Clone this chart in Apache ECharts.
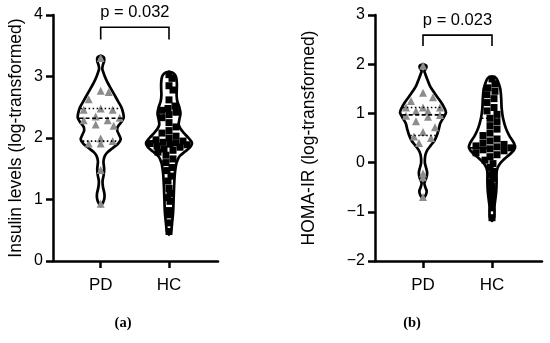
<!DOCTYPE html>
<html><head><meta charset="utf-8">
<script src="https://cdn.jsdelivr.net/npm/echarts@6/dist/echarts.min.js"></script>
<style>html,body{margin:0;padding:0;background:#fff}#c{width:550px;height:343px}</style>
</head><body><div id="c"></div>
<script>
// ---------- data ----------
const categories = ['PD', 'HC'];
const insulinPD = [3.30, 2.77, 2.75, 2.63, 2.48, 2.46, 2.46, 2.35, 2.33, 2.29, 2.29, 2.22, 2.20, 1.99, 1.95, 1.91, 1.91, 1.48, 0.93];
const insulinHC = [3.03, 2.97, 2.85, 2.78, 2.62, 2.52, 2.48, 2.45, 2.42, 2.38, 2.33, 2.25, 2.18, 2.12, 2.08, 2.03, 2.0, 1.97, 1.95, 1.93, 1.92, 1.91, 1.9, 1.89, 1.87, 1.85, 1.82, 1.8, 1.77, 1.72, 1.66, 1.6, 1.52, 1.47, 1.38, 1.3, 1.18, 1.1, 1.03, 0.97, 0.82, 0.75, 0.62, 0.48];
const homaPD = [1.97, 1.42, 1.33, 1.25, 1.12, 1.12, 1.12, 1.05, 1.05, 0.97, 0.95, 0.93, 0.84, 0.72, 0.62, 0.53, 0.5, 0.4, -0.22, -0.3, -0.7];
const homaHC = [1.7, 1.6, 1.52, 1.45, 1.38, 1.3, 1.22, 1.12, 1.05, 0.98, 0.9, 0.83, 0.75, 0.68, 0.6, 0.55, 0.48, 0.44, 0.4, 0.37, 0.34, 0.32, 0.3, 0.28, 0.26, 0.24, 0.2, 0.16, 0.12, 0.05, -0.02, -0.1, -0.18, -0.25, -0.32, -0.4, -0.48, -0.55, -0.62, -0.7, -0.8, -0.92, -1.12];

// violin density profiles: [value, relative density]
const insulinPDViolin = [[3.34,0],[3.31,0.14],[3.25,0.15],[3.18,0.09],[3.12,0.07],[3.0,0.18],[2.9,0.3],[2.8,0.45],[2.7,0.6],[2.6,0.75],[2.5,0.9],[2.4,0.98],[2.33,1.0],[2.26,0.9],[2.18,0.74],[2.12,0.72],[2.05,0.8],[1.98,0.87],[1.9,0.74],[1.83,0.5],[1.77,0.3],[1.71,0.18],[1.62,0.12],[1.5,0.15],[1.4,0.13],[1.3,0.08],[1.2,0.1],[1.1,0.16],[1.02,0.16],[0.95,0.1],[0.9,0]];
const insulinHCViolin = [[3.08,0],[3.05,0.2],[3.0,0.3],[2.9,0.34],[2.8,0.34],[2.7,0.33],[2.6,0.36],[2.5,0.45],[2.4,0.5],[2.3,0.45],[2.22,0.42],[2.15,0.5],[2.08,0.65],[2.0,0.85],[1.92,1.0],[1.85,0.92],[1.78,0.7],[1.7,0.45],[1.6,0.33],[1.5,0.28],[1.4,0.25],[1.2,0.22],[1.0,0.2],[0.8,0.18],[0.6,0.13],[0.5,0.1],[0.45,0.06],[0.43,0]];
const homaPDViolin = [[2.0,0],[1.97,0.14],[1.92,0.14],[1.86,0.06],[1.8,0.1],[1.7,0.18],[1.56,0.3],[1.4,0.52],[1.25,0.75],[1.12,0.92],[1.02,1.0],[0.92,0.9],[0.8,0.75],[0.67,0.68],[0.55,0.6],[0.45,0.5],[0.35,0.34],[0.25,0.18],[0.15,0.1],[0.0,0.08],[-0.1,0.13],[-0.2,0.18],[-0.3,0.15],[-0.42,0.06],[-0.5,0.1],[-0.58,0.16],[-0.66,0.12],[-0.72,0.04],[-0.74,0]];
const homaHCViolin = [[1.75,0],[1.72,0.18],[1.65,0.26],[1.5,0.36],[1.3,0.4],[1.1,0.42],[0.9,0.48],[0.7,0.6],[0.55,0.75],[0.4,0.95],[0.3,1.0],[0.2,0.85],[0.1,0.6],[0.0,0.38],[-0.1,0.25],[-0.2,0.2],[-0.4,0.2],[-0.6,0.18],[-0.8,0.13],[-0.9,0.1],[-1.0,0.11],[-1.1,0.1],[-1.16,0.05],[-1.18,0]];

// quartiles: [Q1, median, Q3]
const insulinPDStats = [1.95, 2.32, 2.48];
const insulinHCStats = [1.62, 1.91, 2.38];
const homaPDStats = [0.55, 0.97, 1.12];
const homaHCStats = [-0.15, 0.30, 0.90];

// significance brackets: [leg end, top]
const insulinBracket = [3.6, 3.8];
const homaBracket = [2.37, 2.59];
const insulinP = 'p = 0.032';
const homaP = 'p = 0.023';

const insulinTicks = [0, 1, 2, 3, 4];
const homaTicks = [-2, -1, 0, 1, 2, 3];
const insulinAxisName = 'Insulin levels (log-transformed)';
const homaAxisName = 'HOMA-IR (log-transformed)';
const captions = ['(a)', '(b)'];

// ---------- chart ----------
const FONT = '"Liberation Sans", Arial, Helvetica, sans-serif';
const HALF = 23; // max violin half width in px
const chart = echarts.init(document.getElementById('c'), null, {renderer: 'canvas'});

const panels = [
  {groups: [
    {x: 1, values: insulinPD, violin: insulinPDViolin, stats: insulinPDStats, symbol: 'triangle', color: '#8c8c8c', size: 8, spread: 1.5},
    {x: 2, values: insulinHC, violin: insulinHCViolin, stats: insulinHCStats, symbol: 'rect', color: '#000', size: 7, spread: 1.0}
  ], bracket: insulinBracket, p: insulinP},
  {groups: [
    {x: 1, values: homaPD, violin: homaPDViolin, stats: homaPDStats, symbol: 'triangle', color: '#8c8c8c', size: 8, spread: 1.5},
    {x: 2, values: homaHC, violin: homaHCViolin, stats: homaHCStats, symbol: 'rect', color: '#000', size: 7, spread: 1.0}
  ], bracket: homaBracket, p: homaP}
];

function halfAt(profile, v) {
  for (let i = 0; i < profile.length - 1; i++) {
    const a = profile[i], b = profile[i + 1];
    if (v <= a[0] && v >= b[0]) {
      const t = (a[0] - v) / (a[0] - b[0]);
      return a[1] + (b[1] - a[1]) * t;
    }
  }
  return 0;
}

function axisCommon() {
  return {
    axisLine: {onZero: false, lineStyle: {color: '#000', width: 2.5}},
    axisTick: {show: true, length: 7, lineStyle: {color: '#000', width: 2.5}},
    splitLine: {show: false},
    axisLabel: {color: '#000', fontFamily: FONT, fontSize: 16}
  };
}

function xAxisFor(gi, min, max) {
  const c = axisCommon();
  return Object.assign(c, {
    type: 'value', gridIndex: gi, min: min, max: max,
    axisTick: Object.assign(c.axisTick, {customValues: [1, 2]}),
    axisLabel: Object.assign(c.axisLabel, {customValues: [1, 2], fontSize: 17, margin: 16, formatter: v => categories[Math.round(v) - 1] || ''})
  });
}
function yAxisFor(gi, ticks, name, gap) {
  const c = axisCommon();
  return Object.assign(c, {
    type: 'value', gridIndex: gi, min: ticks[0], max: ticks[ticks.length - 1], interval: 1,
    name: name, nameLocation: 'middle', nameGap: gap,
    nameTextStyle: {color: '#000', fontFamily: FONT, fontSize: 17.5},
    axisLabel: Object.assign(c.axisLabel, {margin: 10, formatter: v => String(v).replace('-', '\u2212')})
  });
}

const series = [];
panels.forEach((panel, pi) => {
  series.push({
    type: 'custom', xAxisIndex: pi, yAxisIndex: pi, z: 2, silent: true,
    data: panel.groups.map(g => [g.x]),
    renderItem: (params, api) => {
      const g = panel.groups[params.dataIndex];
      const right = [], left = [];
      g.violin.forEach(([v, d]) => {
        const c = api.coord([g.x, v]);
        right.push([c[0] + d * HALF, c[1]]);
        left.unshift([c[0] - d * HALF, c[1]]);
      });
      return {type: 'polygon', shape: {points: right.concat(left), smooth: 0.25},
        style: {fill: '#fff', stroke: '#000', lineWidth: 2.7}};
    }
  });
  panel.groups.forEach((g, gi) => {
    series.push({
      id: 'pts' + pi + '_' + gi,
      type: 'scatter', xAxisIndex: pi, yAxisIndex: pi, z: 3, silent: true,
      symbol: g.symbol, symbolSize: g.size,
      itemStyle: {color: g.color, opacity: 1},
      data: g.values.map(v => [g.x, v])
    });
  });
  series.push({
    type: 'custom', xAxisIndex: pi, yAxisIndex: pi, z: 4, silent: true,
    data: panel.groups.map(g => [g.x]),
    renderItem: (params, api) => {
      const g = panel.groups[params.dataIndex];
      const children = g.stats.map((v, k) => {
        const c = api.coord([g.x, v]);
        const hw = halfAt(g.violin, v) * HALF - 1;
        return {type: 'line', shape: {x1: c[0] - hw, y1: c[1], x2: c[0] + hw, y2: c[1]},
          style: {stroke: '#000', lineWidth: 1.6, lineDash: k === 1 ? [4, 2.5] : [1.5, 2.5]}};
      });
      return {type: 'group', children};
    }
  });
  series.push({
    type: 'custom', xAxisIndex: pi, yAxisIndex: pi, z: 5, silent: true,
    data: [[1, 2]],
    renderItem: (params, api) => {
      const b = panel.bracket;
      const a0 = api.coord([1, b[0]]), a1 = api.coord([1, b[1]]);
      const c1 = api.coord([2, b[1]]), c0 = api.coord([2, b[0]]);
      const mid = api.coord([1.5, b[1]]);
      return {type: 'group', children: [
        {type: 'polyline', shape: {points: [a0, a1, c1, c0]}, style: {stroke: '#000', lineWidth: 1.6, fill: null}},
        {type: 'text', x: mid[0], y: mid[1] - 15,
          style: {text: panel.p, fill: '#000', font: '16.5px ' + FONT, textAlign: 'center', textVerticalAlign: 'middle'}}
      ]};
    }
  });
});

const option = {
  backgroundColor: '#fff',
  animation: false,
  grid: [
    {left: 53, width: 165, top: 15, height: 246},
    {left: 375, width: 167, top: 15, height: 246}
  ],
  xAxis: [xAxisFor(0, 1 - 47.7 / 68.3, 2 + 49 / 68.3), xAxisFor(1, 1 - 48 / 69, 2 + 50 / 69)],
  yAxis: [yAxisFor(0, insulinTicks, insulinAxisName, 28), yAxisFor(1, homaTicks, homaAxisName, 57)],
  graphic: [
    {type: 'text', x: 123, y: 323, style: {text: captions[0], font: 'bold 14.5px "Liberation Serif", "DejaVu Serif", serif', fill: '#000', textAlign: 'center', textVerticalAlign: 'middle'}},
    {type: 'text', x: 412, y: 323, style: {text: captions[1], font: 'bold 14.5px "Liberation Serif", "DejaVu Serif", serif', fill: '#000', textAlign: 'center', textVerticalAlign: 'middle'}}
  ],
  series
};
chart.setOption(option);

// beeswarm placement inside each violin
function swarm(g, pi) {
  const finder = {xAxisIndex: pi, yAxisIndex: pi};
  const cx = chart.convertToPixel(finder, [g.x, 0])[0];
  const unit = chart.convertToPixel(finder, [g.x + 1, 0])[0] - cx;
  const D = g.size * g.spread;
  const pts = g.values.map((v, i) => ({v, i, py: chart.convertToPixel(finder, [g.x, v])[1]}))
    .sort((a, b) => b.v - a.v);
  const placed = [];
  const result = new Array(g.values.length);
  pts.forEach(p => {
    const hw = Math.max(0, halfAt(g.violin, p.v) * HALF - g.size * 0.5);
    let best = 0, bestScore = Infinity;
    const cands = [0];
    for (let d = 1; d <= hw; d += 1) { cands.push(d, -d); }
    for (const dx of cands) {
      let score = 0;
      for (const q of placed) {
        const ox = D - Math.abs(q.x - dx), oy = D - Math.abs(q.y - p.py);
        if (ox > 0 && oy > 0) score += ox * oy;
      }
      score += Math.abs(dx) * 0.01;
      if (score < bestScore - 1e-9) { bestScore = score; best = dx; }
      if (score < 0.5) { best = dx; break; }
    }
    placed.push({x: best, y: p.py});
    result[p.i] = [g.x + best / unit, p.v];
  });
  return result;
}
const upd = [];
panels.forEach((panel, pi) => panel.groups.forEach((g, gi) => {
  upd.push({id: 'pts' + pi + '_' + gi, data: swarm(g, pi)});
}));
chart.setOption({series: upd});
</script>
</body></html>
